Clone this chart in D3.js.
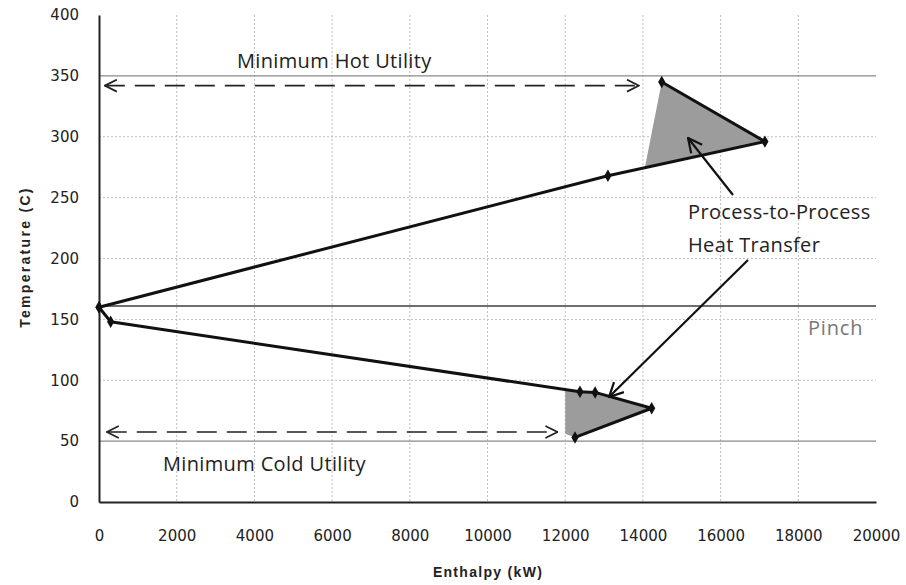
<!DOCTYPE html>
<html>
<head>
<meta charset="utf-8">
<script src="https://cdn.jsdelivr.net/npm/d3@7/dist/d3.min.js"></script>
<style>
  html, body { margin: 0; padding: 0; background: #fff; }
  svg { display: block; }
</style>
</head>
<body>
<svg id="chart" width="906" height="585"></svg>
<script>
// ---------- data ----------
const xTicks = [0, 2000, 4000, 6000, 8000, 10000, 12000, 14000, 16000, 18000, 20000];
const yTicks = [0, 50, 100, 150, 200, 250, 300, 350, 400];

// hot side of grand composite curve (above pinch)
const hotH = [0, 13100, 17140, 14485];
const hotT = [160, 268, 296, 345];
const hotMarkerH = [0, 13100, 17140, 14485];
const hotMarkerT = [160, 268, 296, 345];
// heat pocket above pinch
const hotPocketH = [14050, 17140, 14485];
const hotPocketT = [274.6, 296, 345];

// cold side (below pinch)
const coldH = [0, 300, 12380, 12770, 14226, 12252];
const coldT = [160, 148, 90.5, 90, 77, 53];
const coldMarkerH = [0, 300, 12380, 12770, 14226, 12252];
const coldMarkerT = [160, 148, 90.5, 90, 77, 53];
// heat pocket below pinch
const coldPocketH = [12000, 12380, 12770, 14226, 12252, 12000];
const coldPocketT = [92, 90.5, 90, 77, 53, 56];

const pinchT = 161;
const hotUtilityT = 350;
const coldUtilityT = 50;
const hotArrowH = [150, 13900];
const hotArrowT = 342;
const coldArrowH = [200, 11800];
const coldArrowT = 57.5;

// ---------- layout ----------
const svg = d3.select("#chart");
const x = d3.scaleLinear().domain([0, 20000]).range([99, 876]);
const y = d3.scaleLinear().domain([0, 400]).range([502, 15]);

const defs = svg.append("defs");
function chevron(id, orient) {
  defs.append("marker")
    .attr("id", id).attr("viewBox", "0 0 14 14")
    .attr("refX", 13).attr("refY", 7)
    .attr("markerWidth", 14).attr("markerHeight", 14)
    .attr("markerUnits", "userSpaceOnUse")
    .attr("orient", orient)
    .append("path").attr("d", "M1,1 L13,7 L1,13")
    .attr("fill", "none").attr("stroke", "#222").attr("stroke-width", 1.7);
}
chevron("chev", "auto");
chevron("chevStart", "auto-start-reverse");
defs.append("marker")
  .attr("id", "ann").attr("viewBox", "0 0 16 16")
  .attr("refX", 15).attr("refY", 8)
  .attr("markerWidth", 16).attr("markerHeight", 16)
  .attr("markerUnits", "userSpaceOnUse")
  .attr("orient", "auto")
  .append("path").attr("d", "M1,1 L15,8 L1,15")
  .attr("fill", "none").attr("stroke", "#111").attr("stroke-width", 2.2);

// grid lines (dotted)
const grid = svg.append("g");
grid.selectAll("line.vg").data(xTicks.filter(d => d > 0 && d < 20000)).join("line")
  .attr("x1", d => x(d)).attr("x2", d => x(d))
  .attr("y1", y(400)).attr("y2", y(0))
  .attr("stroke", "#bdbdbd").attr("stroke-width", 1).attr("stroke-dasharray", "2,2");
grid.selectAll("line.hg").data(yTicks.filter(d => d > 0 && d < 400 && d !== hotUtilityT && d !== coldUtilityT)).join("line")
  .attr("x1", x(0)).attr("x2", x(20000))
  .attr("y1", d => y(d)).attr("y2", d => y(d))
  .attr("stroke", "#bdbdbd").attr("stroke-width", 1).attr("stroke-dasharray", "2,2");

// reference lines (solid)
[hotUtilityT, coldUtilityT].forEach(t => {
  svg.append("line").attr("x1", x(0)).attr("x2", x(20000))
    .attr("y1", y(t)).attr("y2", y(t))
    .attr("stroke", "#8a8a8a").attr("stroke-width", 1.4);
});
svg.append("line").attr("x1", x(0)).attr("x2", x(20000))
  .attr("y1", y(pinchT)).attr("y2", y(pinchT))
  .attr("stroke", "#6e6e6e").attr("stroke-width", 1.8);

// axes
const tickFont = "'DejaVu Sans', Verdana, sans-serif";
const xAxis = d3.axisBottom(x).tickValues(xTicks).tickSize(0).tickPadding(28).tickFormat(d3.format("d"));
const gx = svg.append("g").attr("transform", `translate(0,${y(0)})`).call(xAxis);
gx.select(".domain").attr("stroke", "#222").attr("stroke-width", 2);
gx.selectAll("text").attr("font-family", tickFont)
  .attr("font-size", 15).attr("fill", "#222");

const yAxis = d3.axisLeft(y).tickValues(yTicks).tickSize(0).tickPadding(20);
const gy = svg.append("g").attr("transform", `translate(${x(0)},0)`).call(yAxis);
gy.select(".domain").attr("stroke", "#222").attr("stroke-width", 2);
gy.selectAll("text").attr("font-family", tickFont)
  .attr("font-size", 15).attr("fill", "#222");

svg.append("text").attr("x", 488).attr("y", 577).attr("text-anchor", "middle")
  .attr("font-family", "Liberation Sans, Arial, sans-serif").attr("font-size", 14)
  .attr("font-weight", "bold").attr("letter-spacing", 1.3).attr("fill", "#222").text("Enthalpy (kW)");
svg.append("text").attr("transform", "translate(30,257) rotate(-90)").attr("text-anchor", "middle")
  .attr("font-family", "Liberation Sans, Arial, sans-serif").attr("font-size", 14)
  .attr("font-weight", "bold").attr("letter-spacing", 2.3).attr("fill", "#222").text("Temperature (C)");

// pockets
const poly = (hs, ts) => hs.map((h, i) => [x(h), y(ts[i])]);
svg.append("path").attr("d", d3.line()(poly(hotPocketH, hotPocketT)) + "Z")
  .attr("fill", "#9c9c9c");
svg.append("path").attr("d", d3.line()(poly(coldPocketH, coldPocketT)) + "Z")
  .attr("fill", "#9c9c9c");

// curves
svg.append("path").attr("d", d3.line()(poly(hotH, hotT)))
  .attr("fill", "none").attr("stroke", "#111").attr("stroke-width", 3).attr("stroke-linejoin", "round");
svg.append("path").attr("d", d3.line()(poly(coldH, coldT)))
  .attr("fill", "none").attr("stroke", "#111").attr("stroke-width", 3).attr("stroke-linejoin", "round");

// markers
const sym = d3.symbol().type(d3.symbolDiamond).size(45);
svg.selectAll("path.mh").data(hotMarkerH.map((h, i) => [h, hotMarkerT[i]])).join("path")
  .attr("d", sym).attr("transform", d => `translate(${x(d[0])},${y(d[1])})`).attr("fill", "#111");
svg.selectAll("path.mc").data(coldMarkerH.map((h, i) => [h, coldMarkerT[i]])).join("path")
  .attr("d", sym).attr("transform", d => `translate(${x(d[0])},${y(d[1])})`).attr("fill", "#111");

// utility arrows
function dashedArrow(h0, h1, t) {
  svg.append("line").attr("x1", x(h0)).attr("x2", x(h1)).attr("y1", y(t)).attr("y2", y(t))
    .attr("stroke", "#222").attr("stroke-width", 1.7).attr("stroke-dasharray", "20,10")
    .attr("marker-start", "url(#chevStart)").attr("marker-end", "url(#chev)");
}
dashedArrow(hotArrowH[0], hotArrowH[1], hotArrowT);
dashedArrow(coldArrowH[0], coldArrowH[1], coldArrowT);

// annotations
const annFont = "'Open Sans', Lato, sans-serif";
const annSize = 20;
const annLS = 0.35;
svg.append("text").attr("x", 237).attr("y", 68).attr("font-family", annFont)
  .attr("font-size", annSize).attr("letter-spacing", annLS).attr("fill", "#222").text("Minimum Hot Utility");
svg.append("text").attr("x", 163).attr("y", 471).attr("font-family", annFont)
  .attr("font-size", annSize).attr("letter-spacing", annLS).attr("fill", "#222").text("Minimum Cold Utility");
svg.append("text").attr("x", 688).attr("y", 219).attr("font-family", annFont)
  .attr("font-size", annSize).attr("letter-spacing", annLS).attr("fill", "#222").text("Process-to-Process");
svg.append("text").attr("x", 688).attr("y", 252).attr("font-family", annFont)
  .attr("font-size", annSize).attr("letter-spacing", annLS).attr("fill", "#222").text("Heat Transfer");
svg.append("text").attr("x", 808).attr("y", 335).attr("font-family", annFont)
  .attr("font-size", annSize).attr("fill", "#777").attr("letter-spacing", 0.8).text("Pinch");

svg.append("line").attr("x1", 733).attr("y1", 195).attr("x2", 688).attr("y2", 138)
  .attr("stroke", "#111").attr("stroke-width", 2.2).attr("marker-end", "url(#ann)");
svg.append("line").attr("x1", 748).attr("y1", 260).attr("x2", 609).attr("y2", 397)
  .attr("stroke", "#111").attr("stroke-width", 2.2).attr("marker-end", "url(#ann)");
</script>
</body>
</html>
